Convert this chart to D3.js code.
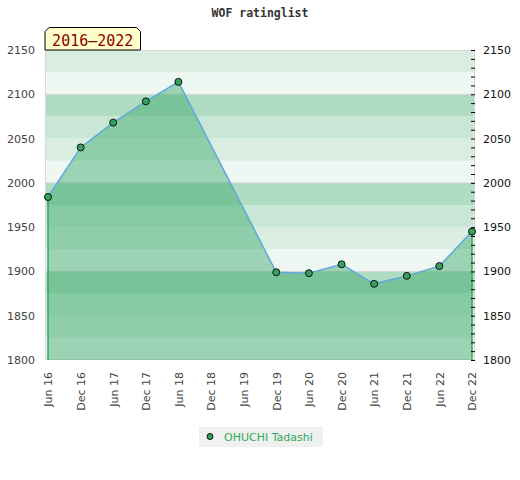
<!DOCTYPE html>
<html>
<head>
<meta charset="utf-8">
<script src="https://cdn.jsdelivr.net/npm/d3@7"></script>
<style>
  body { margin: 0; background: #fff; }
  text { font-family: "DejaVu Sans", sans-serif; }
</style>
</head>
<body>
<script>
var width = 520;
var height = 480;

// data
var dates = ["Jun 16", "Dec 16", "Jun 17", "Dec 17", "Jun 18", "Dec 19",
             "Jun 20", "Dec 20", "Jun 21", "Dec 21", "Jun 22", "Dec 22"];
var ratings = [1984, 2040, 2068, 2092, 2114, 1899, 1898, 1908, 1886, 1895, 1906, 1945];
var tickLabels = ["Jun 16", "Dec 16", "Jun 17", "Dec 17", "Jun 18", "Dec 18", "Jun 19",
                  "Dec 19", "Jun 20", "Dec 20", "Jun 21", "Dec 21", "Jun 22", "Dec 22"];
var yTicks = [1800, 1850, 1900, 1950, 2000, 2050, 2100, 2150];
var playerName = "OHUCHI Tadashi";
var periodLabel = "2016\u20132022";
var title = "WOF ratinglist";

var parse = d3.timeParse("%b %y");
var data = dates.map(function(d, i) { return {date: parse(d), value: ratings[i]}; });

var plot = {left: 45, right: 475, top: 50, bottom: 360};

var x = d3.scaleTime()
  .domain([parse(tickLabels[0]), parse(tickLabels[tickLabels.length - 1])])
  .range([48, 472]);
var y = d3.scaleLinear().domain([1800, 2150]).range([plot.bottom, plot.top]);

var svg = d3.select("body")
  .append("svg")
  .attr("width", width)
  .attr("height", height);

// title
svg.append("text")
  .attr("x", 260)
  .attr("y", 17)
  .attr("text-anchor", "middle")
  .style("font-family", "'DejaVu Sans Mono', monospace")
  .style("font-weight", "bold")
  .style("font-size", "11.5px")
  .style("fill", "#333")
  .text(title);

// striped background, 25 points each, pattern repeats every 100
var bandColors = ["#b0dcc1", "#c8e7d6", "#daede1", "#eef7f2"];
var bands = d3.range(1800, 2150, 25);
svg.selectAll("rect.band")
  .data(bands)
  .enter().append("rect")
  .attr("class", "band")
  .attr("x", plot.left)
  .attr("width", plot.right - plot.left)
  .attr("y", function(d) { return y(d + 25); })
  .attr("height", function(d) { return y(d) - y(d + 25); })
  .style("fill", function(d) { return bandColors[3 - ((d - 1800) / 25) % 4]; });

svg.selectAll("line.grid")
  .data([1900, 2000, 2100])
  .enter().append("line")
  .attr("class", "grid")
  .attr("x1", plot.left).attr("x2", plot.right)
  .attr("y1", function(d) { return y(d); })
  .attr("y2", function(d) { return y(d); })
  .style("stroke", "#d4d4d4");

svg.append("rect")
  .attr("x", plot.left + 0.5)
  .attr("y", plot.top + 0.5)
  .attr("width", plot.right - plot.left - 1)
  .attr("height", plot.bottom - plot.top - 1)
  .style("fill", "none")
  .style("stroke", "#d8d8d8");

// area
var area = d3.area()
  .x(function(d) { return x(d.date); })
  .y0(plot.bottom)
  .y1(function(d) { return y(d.value); });

svg.append("path")
  .datum(data)
  .attr("d", area)
  .style("fill", "#2ca25f")
  .style("fill-opacity", 0.42);

// vertical edges of the area
var first = data[0], last = data[data.length - 1];
svg.selectAll("line.edge")
  .data([first, last])
  .enter().append("line")
  .attr("class", "edge")
  .attr("x1", function(d) { return x(d.date); })
  .attr("x2", function(d) { return x(d.date); })
  .attr("y1", function(d) { return y(d.value); })
  .attr("y2", plot.bottom)
  .style("stroke", "#2eaa5a")
  .style("stroke-width", 1.5);

var line = d3.line()
  .x(function(d) { return x(d.date); })
  .y(function(d) { return y(d.value); });

svg.append("path")
  .datum(data)
  .attr("d", line)
  .style("fill", "none")
  .style("stroke", "#62a8dc")
  .style("stroke-width", 1.5);

svg.selectAll("circle.pt")
  .data(data)
  .enter().append("circle")
  .attr("class", "pt")
  .attr("cx", function(d) { return x(d.date); })
  .attr("cy", function(d) { return y(d.value); })
  .attr("r", 3.5)
  .style("fill", "#34a15c")
  .style("stroke", "#111")
  .style("stroke-width", 1);

// left axis
var leftAxis = svg.append("g")
  .attr("transform", "translate(" + plot.left + ",0)")
  .call(d3.axisLeft(y).tickValues(yTicks).tickSize(0).tickPadding(10).tickFormat(d3.format("d")));
leftAxis.select(".domain").remove();
leftAxis.selectAll("text")
  .style("font-size", "11px")
  .style("fill", "#444");

// right axis, minor ticks every 10
var rightAxis = svg.append("g")
  .attr("transform", "translate(" + plot.right + ",0)")
  .call(d3.axisLeft(y).tickValues(d3.range(1800, 2151, 10)).tickSize(4).tickFormat(""));
rightAxis.select(".domain").remove();
rightAxis.selectAll("line").style("stroke", "#000");

var rightLabels = svg.append("g")
  .attr("transform", "translate(" + plot.right + ",0)")
  .call(d3.axisRight(y).tickValues(yTicks).tickSize(0).tickPadding(8).tickFormat(d3.format("d")));
rightLabels.select(".domain").remove();
rightLabels.selectAll("text")
  .style("font-size", "11px")
  .style("fill", "#111");

// bottom axis
var bottomAxis = svg.append("g")
  .attr("transform", "translate(0," + plot.bottom + ")")
  .call(d3.axisBottom(x).tickValues(tickLabels.map(parse)).tickSize(0)
        .tickFormat(d3.timeFormat("%b %y")));
bottomAxis.select(".domain").remove();
bottomAxis.selectAll("text")
  .attr("transform", "rotate(-90)")
  .attr("x", -12)
  .attr("y", 0)
  .attr("dy", "0.35em")
  .style("text-anchor", "end")
  .style("font-size", "11px")
  .style("fill", "#444");

// period label box with clipped top corners
var bx0 = 45, bx1 = 140.5, by0 = 27.5, by1 = 50, cut = 4;
svg.append("path")
  .attr("d", "M" + bx0 + "," + by1 + "L" + bx0 + "," + (by0 + cut) + "L" + (bx0 + cut) + "," + by0 +
             "L" + (bx1 - cut) + "," + by0 + "L" + bx1 + "," + (by0 + cut) + "L" + bx1 + "," + by1 + "Z")
  .style("fill", "#ffffcc")
  .style("stroke", "#000");

svg.append("text")
  .attr("x", (bx0 + bx1) / 2)
  .attr("y", 45.5)
  .attr("text-anchor", "middle")
  .style("font-family", "'DejaVu Sans Mono', monospace")
  .style("font-size", "15px")
  .style("fill", "#8b0000")
  .text(periodLabel);

// legend
var legend = svg.append("g").attr("transform", "translate(199,427)");
legend.append("rect")
  .attr("width", 124)
  .attr("height", 20)
  .style("fill", "#f0f0f0");
legend.append("circle")
  .attr("cx", 11)
  .attr("cy", 9.5)
  .attr("r", 3)
  .style("fill", "#34a15c")
  .style("stroke", "#111");
legend.append("text")
  .attr("x", 25)
  .attr("y", 13.5)
  .style("font-size", "11px")
  .style("fill", "#2eaa5a")
  .text(playerName);
</script>
</body>
</html>
